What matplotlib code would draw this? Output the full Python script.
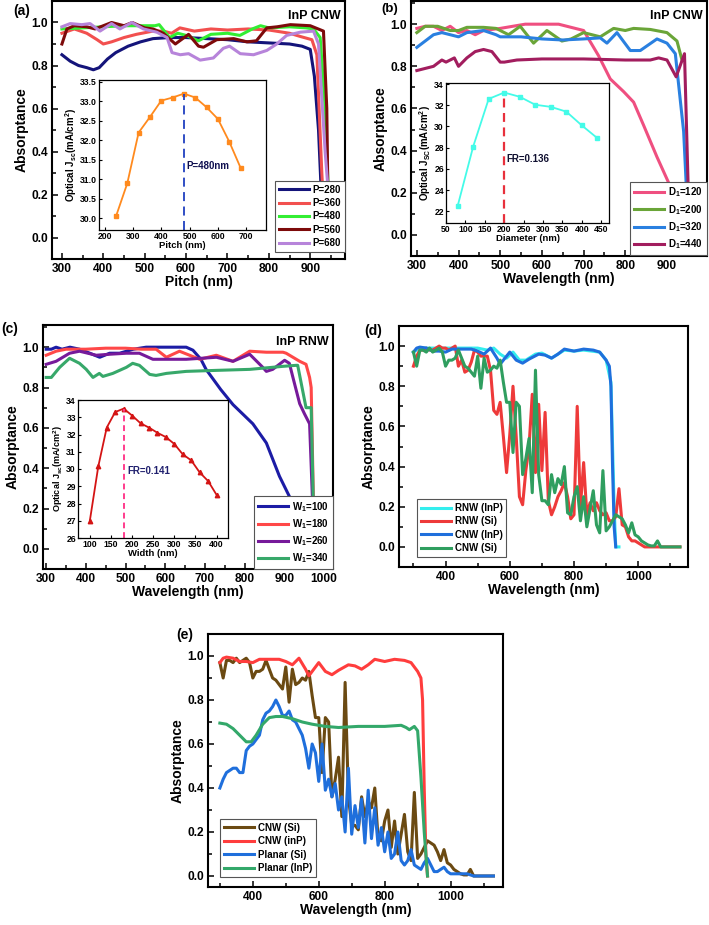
import numpy as np
import matplotlib
matplotlib.use('Agg')
import matplotlib.pyplot as plt
from matplotlib.ticker import MultipleLocator, FormatStrFormatter

# fonts: bold arial-like everywhere, mathtext bold too
FAMILY = ['Liberation Sans', 'DejaVu Sans']
plt.rcParams['font.family'] = FAMILY
plt.rcParams['font.weight'] = 'bold'
plt.rcParams['axes.labelweight'] = 'bold'
plt.rcParams['mathtext.fontset'] = 'custom'
plt.rcParams['mathtext.rm'] = 'Liberation Sans:bold'
plt.rcParams['mathtext.it'] = 'Liberation Sans:bold'
plt.rcParams['mathtext.bf'] = 'Liberation Sans:bold'
plt.rcParams['mathtext.default'] = 'bf'

# ---------------- (a) InP CNW, pitch sweep ----------------
wl_p280 = [300, 320, 340, 360, 376, 390, 410, 430, 460, 490, 520, 560, 600, 650, 700, 750, 800, 850, 880, 900, 910, 920, 928, 936]
ab_p280 = [0.85, 0.82, 0.80, 0.79, 0.78, 0.79, 0.83, 0.86, 0.89, 0.91, 0.925, 0.93, 0.93, 0.925, 0.92, 0.91, 0.905, 0.90, 0.89, 0.875, 0.75, 0.50, 0.15, 0.0]
wl_p360 = [300, 330, 360, 385, 400, 420, 450, 480, 520, 545, 565, 585, 620, 660, 700, 750, 800, 850, 876, 904, 916, 928, 936]
ab_p360 = [0.95, 0.97, 0.95, 0.92, 0.90, 0.91, 0.93, 0.945, 0.96, 0.96, 0.95, 0.975, 0.96, 0.97, 0.965, 0.97, 0.965, 0.95, 0.935, 0.92, 0.85, 0.30, 0.0]
wl_p480 = [300, 350, 400, 450, 500, 525, 535, 560, 580, 600, 630, 660, 700, 730, 760, 780, 800, 850, 890, 908, 924, 936, 944, 948]
ab_p480 = [0.97, 0.975, 0.98, 0.985, 0.985, 0.985, 0.99, 0.93, 0.95, 0.94, 0.915, 0.945, 0.95, 0.94, 0.97, 0.985, 0.975, 0.98, 0.975, 0.97, 0.93, 0.60, 0.20, 0.0]
wl_p560 = [300, 312, 330, 360, 380, 420, 450, 470, 500, 520, 545, 574, 606, 630, 642, 674, 715, 747, 770, 795, 820, 852, 900, 932, 940, 944]
ab_p560 = [0.90, 0.97, 0.985, 0.98, 0.97, 1.00, 0.985, 1.0, 0.975, 0.97, 0.95, 0.90, 0.945, 0.89, 0.885, 0.92, 0.925, 0.91, 0.915, 0.975, 0.98, 0.99, 0.985, 0.96, 0.60, 0.0]
wl_p680 = [300, 320, 348, 368, 392, 420, 440, 469, 497, 529, 554, 566, 586, 606, 634, 666, 690, 705, 731, 763, 795, 819, 843, 876, 908, 920, 936, 952, 964]
ab_p680 = [0.98, 0.995, 0.99, 0.995, 0.96, 0.995, 0.97, 1.0, 0.97, 0.955, 0.93, 0.86, 0.85, 0.855, 0.825, 0.835, 0.88, 0.89, 0.855, 0.85, 0.87, 0.90, 0.94, 0.955, 0.96, 0.90, 0.40, 0.0, 0.0]

pitch = [240, 280, 320, 360, 400, 440, 480, 520, 560, 600, 640, 680]
jsc_pitch = [30.05, 30.9, 32.2, 32.6, 33.02, 33.1, 33.2, 33.1, 32.85, 32.55, 31.97, 31.3]

# ---------------- (b) InP CNW, diameter sweep ----------------
wl_d120 = [300, 320, 340, 360, 380, 400, 420, 440, 460, 480, 500, 530, 560, 600, 640, 660, 700, 736, 764, 796, 820, 844, 876, 908, 932, 948, 954]
ab_d120 = [0.98, 0.99, 0.99, 0.97, 0.99, 0.96, 0.97, 0.95, 0.97, 0.975, 0.98, 0.99, 1.0, 1.0, 1.0, 0.99, 0.97, 0.85, 0.74, 0.68, 0.63, 0.52, 0.37, 0.23, 0.135, 0.04, 0.0]
wl_d200 = [300, 320, 350, 380, 400, 420, 460, 490, 520, 548, 580, 612, 648, 670, 700, 740, 772, 800, 820, 860, 900, 924, 936]
ab_d200 = [0.96, 0.99, 0.99, 0.97, 0.97, 0.985, 0.985, 0.98, 0.95, 0.99, 0.91, 0.97, 0.92, 0.93, 0.96, 0.94, 0.98, 0.97, 0.98, 0.975, 0.96, 0.92, 0.83]
wl_d320 = [300, 320, 340, 360, 380, 400, 420, 460, 490, 500, 550, 600, 650, 700, 740, 756, 780, 812, 836, 876, 900, 920, 940, 952]
ab_d320 = [0.89, 0.92, 0.95, 0.96, 0.95, 0.94, 0.96, 0.97, 0.95, 0.94, 0.94, 0.93, 0.925, 0.93, 0.935, 0.91, 0.96, 0.875, 0.875, 0.93, 0.91, 0.86, 0.49, 0.0]
wl_d440 = [300, 320, 340, 360, 370, 390, 400, 420, 440, 460, 480, 500, 510, 540, 600, 700, 800, 860, 880, 900, 922, 942, 954]
ab_d440 = [0.78, 0.79, 0.80, 0.83, 0.82, 0.84, 0.80, 0.84, 0.87, 0.88, 0.87, 0.82, 0.82, 0.83, 0.835, 0.835, 0.83, 0.83, 0.84, 0.83, 0.75, 0.86, 0.0]

diameter = [80, 120, 160, 200, 240, 280, 320, 360, 400, 440]
jsc_diam = [22.5, 28.1, 32.6, 33.2, 32.8, 32.05, 31.85, 31.4, 30.1, 28.9]

# ---------------- (c) InP RNW, width sweep ----------------
wl_w100 = [300, 313, 325, 340, 360, 384, 410, 435, 460, 485, 520, 552, 600, 653, 670, 690, 703, 740, 771, 800, 821, 855, 888, 913, 939, 964, 976]
ab_w100 = [0.99, 0.99, 1.0, 0.99, 1.0, 0.99, 0.97, 0.95, 0.97, 0.97, 0.99, 1.0, 1.0, 1.0, 0.985, 0.94, 0.89, 0.79, 0.715, 0.66, 0.62, 0.525, 0.36, 0.26, 0.18, 0.06, 0.0]
wl_w180 = [300, 325, 350, 400, 450, 500, 540, 577, 603, 636, 687, 729, 771, 813, 855, 897, 905, 939, 955, 964, 968, 976]
ab_w180 = [0.96, 0.98, 0.99, 0.99, 0.995, 0.995, 0.99, 0.99, 0.95, 0.98, 0.94, 0.96, 0.93, 0.98, 0.975, 0.975, 0.97, 0.93, 0.915, 0.85, 0.80, 0.0]
wl_w260 = [300, 325, 359, 384, 426, 460, 502, 535, 569, 653, 729, 771, 813, 846, 855, 871, 901, 913, 922, 939, 951, 964, 976]
ab_w260 = [0.915, 0.93, 0.97, 0.98, 0.96, 0.965, 0.97, 0.97, 0.94, 0.94, 0.95, 0.93, 0.965, 0.90, 0.88, 0.89, 0.935, 0.92, 0.85, 0.72, 0.67, 0.62, 0.0]
wl_w340 = [300, 313, 334, 359, 384, 401, 418, 434, 443, 468, 502, 518, 535, 561, 577, 603, 653, 729, 813, 897, 930, 934, 955, 968, 976, 989]
ab_w340 = [0.85, 0.85, 0.90, 0.945, 0.92, 0.89, 0.85, 0.87, 0.855, 0.87, 0.90, 0.92, 0.91, 0.865, 0.86, 0.87, 0.88, 0.885, 0.89, 0.905, 0.91, 0.91, 0.70, 0.70, 0.0, 0.0]

width = [100, 120, 140, 160, 180, 200, 220, 240, 260, 280, 300, 320, 340, 360, 380, 400]
jsc_width = [27.0, 30.15, 32.4, 33.3, 33.5, 33.1, 32.65, 32.4, 32.1, 31.85, 31.45, 30.85, 30.5, 29.8, 29.3, 28.5]

# ---------------- (d)/(e) InP vs Si ----------------
wl_rnw_inp = [300, 320, 350, 400, 450, 500, 530, 550, 570, 590, 610, 630, 650, 680, 700, 730, 770, 800, 830, 880, 900, 915, 925, 930, 940]
ab_rnw_inp = [0.97, 0.99, 0.99, 0.99, 0.99, 0.99, 0.98, 0.99, 0.96, 0.94, 0.97, 0.93, 0.93, 0.96, 0.965, 0.94, 0.98, 0.975, 0.98, 0.97, 0.93, 0.82, 0.20, 0.0, 0.0]
wl_cnw_inp = [300, 310, 320, 340, 360, 380, 400, 420, 440, 460, 480, 500, 520, 540, 560, 570, 585, 600, 620, 640, 660, 690, 710, 730, 750, 770, 800, 830, 860, 880, 900, 910, 915, 920, 925, 930]
ab_cnw_inp = [0.97, 0.99, 0.995, 0.99, 0.975, 0.975, 0.97, 0.985, 0.985, 0.985, 0.985, 0.975, 0.96, 0.99, 0.94, 0.91, 0.94, 0.97, 0.93, 0.915, 0.935, 0.96, 0.955, 0.94, 0.96, 0.985, 0.975, 0.985, 0.98, 0.97, 0.93, 0.90, 0.80, 0.40, 0.10, 0.0]

wl_si = list(range(300, 1131, 10))
ab_rnw_si = [0.90, 0.95, 0.98, 0.98, 0.99, 0.98, 0.98, 0.99, 1.00, 0.99,
             0.99, 0.98, 0.99, 1.00, 0.90, 0.93, 0.87, 0.88, 0.92, 0.98,
             0.97, 0.95, 0.95, 0.95, 0.88, 0.68, 0.66, 0.72, 0.55, 0.37,
             0.56, 0.80, 0.55, 0.25, 0.21, 0.38, 0.50, 0.76, 0.37, 0.71,
             0.38, 0.67, 0.23, 0.16, 0.20, 0.25, 0.28, 0.32, 0.25, 0.14,
             0.16, 0.70, 0.20, 0.42, 0.16, 0.22, 0.18, 0.22, 0.18, 0.16,
             0.17, 0.13, 0.13, 0.15, 0.29, 0.11, 0.10, 0.05, 0.03, 0.03,
             0.02, 0.01, 0.0, 0.0, 0.0, 0.0, 0.0, 0.0, 0.0, 0.0,
             0.0, 0.0, 0.0, 0.0]
ab_cnw_si = [0.97, 0.90, 0.98, 0.98, 0.97, 0.99, 0.97, 0.98, 0.99, 0.97,
             0.90, 0.93, 0.93, 0.94, 0.98, 0.94, 0.90, 0.89, 0.87, 0.85,
             0.95, 0.79, 0.94, 0.87, 0.88, 0.90, 0.89, 0.93, 0.82, 0.72,
             0.72, 0.47, 0.72, 0.70, 0.36, 0.44, 0.54, 0.27, 0.88, 0.36,
             0.23, 0.23, 0.21, 0.36, 0.27, 0.34, 0.31, 0.40, 0.17, 0.16,
             0.25, 0.30, 0.13, 0.25, 0.10, 0.19, 0.28, 0.11, 0.07, 0.38,
             0.08, 0.10, 0.13, 0.16, 0.15, 0.14, 0.11, 0.07, 0.12, 0.06,
             0.05, 0.03, 0.02, 0.01, 0.005, 0.005, 0.03, 0.0, 0.0, 0.0,
             0.0, 0.0, 0.0, 0.0]
ab_planar_si = [0.40, 0.44, 0.47, 0.48, 0.49, 0.49, 0.47, 0.47, 0.57, 0.59,
                0.60, 0.62, 0.64, 0.71, 0.74, 0.75, 0.77, 0.80, 0.77, 0.73,
                0.73, 0.75, 0.71, 0.70, 0.67, 0.64, 0.58, 0.49, 0.60, 0.56,
                0.43, 0.60, 0.39, 0.44, 0.36, 0.42, 0.30, 0.36, 0.20, 0.49,
                0.19, 0.32, 0.22, 0.35, 0.15, 0.39, 0.17, 0.31, 0.14, 0.22,
                0.11, 0.20, 0.08, 0.10, 0.20, 0.07, 0.05, 0.07, 0.12, 0.05,
                0.04, 0.03, 0.06, 0.08, 0.05, 0.02, 0.02, 0.03, 0.04, 0.02,
                0.01, 0.01, 0.01, 0.01, 0.01, 0.01, 0.005, 0.0, 0.0, 0.0,
                0.0, 0.0, 0.0, 0.0]
wl_planar_inp = [300, 320, 340, 360, 380, 395, 410, 430, 450, 470, 490, 520, 550, 580, 620, 660, 720, 800, 850, 865, 875, 890, 900, 910, 920, 930]
ab_planar_inp = [0.695, 0.69, 0.67, 0.64, 0.61, 0.61, 0.64, 0.69, 0.72, 0.725, 0.725, 0.715, 0.70, 0.69, 0.68, 0.675, 0.68, 0.68, 0.685, 0.675, 0.665, 0.68, 0.66, 0.45, 0.20, 0.0]

FS_TICK = 8.6
FS_LABEL = 10
FS_LEG = 7
FS_IN = 6.2

fig = plt.figure(figsize=(7.09, 9.25), dpi=100, facecolor='white')


def px_rect(x0, y0, x1, y1):
    # pixel box (top-left origin) -> figure fraction
    W, H = 709.0, 925.0
    return [x0 / W, 1 - y1 / H, (x1 - x0) / W, (y1 - y0) / H]


def bold_ticks(ax):
    for lab in ax.get_xticklabels() + ax.get_yticklabels():
        lab.set_fontweight('bold')


def main_axes(box, xlim, ylim, xlabel, xmaj, xmin):
    ax = fig.add_axes(px_rect(*box))
    ax.set_xlim(xlim)
    ax.set_ylim(ylim)
    ax.xaxis.set_major_locator(MultipleLocator(xmaj))
    ax.xaxis.set_minor_locator(MultipleLocator(xmin))
    ax.yaxis.set_major_locator(MultipleLocator(0.2))
    ax.yaxis.set_minor_locator(MultipleLocator(0.1))
    ax.yaxis.set_major_formatter(FormatStrFormatter('%.1f'))
    ax.tick_params(which='both', direction='in', width=1.1, labelsize=FS_TICK, pad=3)
    ax.tick_params(which='major', length=4)
    ax.tick_params(which='minor', length=3)
    for s in ax.spines.values():
        s.set_linewidth(1.5)
    ax.set_xlabel(xlabel, fontsize=FS_LABEL, labelpad=0, fontweight='bold')
    ax.set_ylabel('Absorptance', fontsize=FS_LABEL, labelpad=2, fontweight='bold')
    bold_ticks(ax)
    return ax


def inset_axes(box, xlim, ylim, xlabel, xmaj, ymaj, yfmt):
    ax = fig.add_axes(px_rect(*box))
    ax.set_xlim(xlim)
    ax.set_ylim(ylim)
    ax.xaxis.set_major_locator(MultipleLocator(xmaj))
    ax.yaxis.set_major_locator(MultipleLocator(ymaj))
    ax.yaxis.set_major_formatter(FormatStrFormatter(yfmt))
    ax.tick_params(direction='in', length=2.5, width=0.8, labelsize=FS_IN, pad=1.5)
    for s in ax.spines.values():
        s.set_linewidth(0.9)
    ax.set_xlabel(xlabel, fontsize=FS_IN + 0.6, labelpad=0, fontweight='bold')
    bold_ticks(ax)
    return ax


def add_legend(ax, loc, anchor):
    leg = ax.legend(loc=loc, bbox_to_anchor=anchor, handlelength=3.1,
                    prop={'family': FAMILY, 'weight': 'bold', 'size': FS_LEG},
                    handletextpad=0.4, labelspacing=0.35, borderpad=0.4, borderaxespad=0,
                    frameon=True, fancybox=False, framealpha=1, edgecolor='#555555')
    leg.get_frame().set_linewidth(0.8)
    return leg


LW = 2.2

# ---- (a)
ax = main_axes((52, 1, 345, 259), (276, 984), (-0.1, 1.1), 'Pitch (nm)', 100, 50)
ax.plot(wl_p280, ab_p280, color='#14147a', lw=LW, label='P=280')
ax.plot(wl_p360, ab_p360, color='#f2504f', lw=LW, label='P=360')
ax.plot(wl_p480, ab_p480, color='#33ee33', lw=LW, label='P=480')
ax.plot(wl_p560, ab_p560, color='#7d0a0a', lw=LW, label='P=560')
ax.plot(wl_p680, ab_p680, color='#b784da', lw=LW, label='P=680')
ax.text(0.985, 0.965, 'InP CNW', transform=ax.transAxes, ha='right', va='top', fontsize=9, fontweight='bold')
add_legend(ax, 'lower right', (1.0, 0.027))
fig.text(13 / 709, 1 - 4 / 925, '(a)', fontsize=10, va='top', fontweight='bold')

ins = inset_axes((99, 80, 266, 230), (180, 770), (29.7, 33.55), 'Pitch (nm)', 100, 0.5, '%.1f')
ins.set_ylabel('Optical J$_{sc}$(mA/cm$^{2}$)', fontsize=7, labelpad=1, fontweight='bold')
ins.plot(pitch, jsc_pitch, color='#ff8a1e', lw=1.3, marker='s', ms=3)
best = int(np.argmax(jsc_pitch))
ins.vlines(pitch[best], 29.7, jsc_pitch[best], colors='#2040c0', linestyles=(0, (5, 3)), lw=1.3)
ins.text(pitch[best] + 8, 31.35, 'P=%dnm' % pitch[best], fontsize=7, color='#101050', va='center', fontweight='bold')

# ---- (b)
ax = main_axes((411, 1, 707, 256), (286, 996), (-0.1, 1.11), 'Wavelength (nm)', 100, 50)
ax.plot(wl_d120, ab_d120, color='#ef4f80', lw=LW, label='D$_1$=120')
ax.plot(wl_d200, ab_d200, color='#6aa538', lw=LW, label='D$_1$=200')
ax.plot(wl_d320, ab_d320, color='#2a80e0', lw=LW, label='D$_1$=320')
ax.plot(wl_d440, ab_d440, color='#a21d5e', lw=LW, label='D$_1$=440')
ax.text(0.985, 0.965, 'InP CNW', transform=ax.transAxes, ha='right', va='top', fontsize=9, fontweight='bold')
add_legend(ax, 'lower right', (1.0, 0.004))
fig.text(381 / 709, 1 - 3 / 925, '(b)', fontsize=9.5, va='top', fontweight='bold')

ins = inset_axes((446, 83, 609, 223), (50, 470), (20.9, 34.1), 'Diameter (nm)', 50, 2, '%d')
ins.set_ylabel('Optical J$_{SC}$(mA/cm$^{2}$)', fontsize=7, labelpad=1, fontweight='bold')
ins.plot(diameter, jsc_diam, color='#44fbe8', lw=1.3, marker='s', ms=2.8)
best = int(np.argmax(jsc_diam))
ins.vlines(diameter[best], 20.9, jsc_diam[best], colors='#e8303c', linestyles=(0, (4, 2.5)), lw=1.6)
ins.text(diameter[best] + 5, 26.9, 'FR=0.136', fontsize=7, color='#101030', va='center', fontweight='bold')

# ---- (c)
ax = main_axes((43, 325, 333, 569), (292, 1023), (-0.1, 1.11), 'Wavelength (nm)', 100, 50)
ax.plot(wl_w100, ab_w100, color='#1c1ca5', lw=LW, label='W$_1$=100')
ax.plot(wl_w180, ab_w180, color='#ff4848', lw=LW, label='W$_1$=180')
ax.plot(wl_w260, ab_w260, color='#761a9a', lw=LW, label='W$_1$=260')
ax.plot(wl_w340, ab_w340, color='#37a86a', lw=LW, label='W$_1$=340')
ax.text(0.985, 0.955, 'InP RNW', transform=ax.transAxes, ha='right', va='top', fontsize=9, fontweight='bold')
add_legend(ax, 'lower right', (1.0, 0.0))
fig.text(1 / 709, 1 - 322 / 925, '(c)', fontsize=10, va='top', fontweight='bold')

ins = inset_axes((78, 400, 228, 538), (72, 427), (26, 34), 'Width (nm)', 50, 1, '%d')
ins.set_ylabel('Optical J$_{sc}$(mA/cm$^{2}$)', fontsize=6.5, labelpad=1, fontweight='bold')
ins.plot(width, jsc_width, color='#d41414', lw=1.3, marker='^', ms=3.2)
best = int(np.argmax(jsc_width))
ins.vlines(width[best], 26, jsc_width[best], colors='#ff3c8c', linestyles=(0, (3, 2)), lw=1.4)
ins.text(width[best] + 10, 29.9, 'FR=0.141', fontsize=7, color='#20206e', va='center', fontweight='bold')

# ---- (d)
ax = main_axes((399, 326, 688, 567), (255, 1155), (-0.1, 1.1), 'Wavelength (nm)', 200, 100)
ax.plot(wl_rnw_inp, ab_rnw_inp, color='#33eeee', lw=LW, label='RNW (InP)')
ax.plot(wl_si, ab_rnw_si, color='#ee3a3a', lw=LW, label='RNW (Si)')
ax.plot(wl_cnw_inp, ab_cnw_inp, color='#1f6fdc', lw=LW, label='CNW (InP)')
ax.plot(wl_si, ab_cnw_si, color='#2f9e5f', lw=LW, label='CNW (Si)')
add_legend(ax, 'lower left', (0.061, 0.041))
fig.text(364 / 709, 1 - 324 / 925, '(d)', fontsize=10, va='top', fontweight='bold')

# ---- (e)
ax = main_axes((208, 634, 503, 887), (264, 1159), (-0.05, 1.1), 'Wavelength (nm)', 200, 100)
ax.plot(wl_si, ab_cnw_si, color='#6b4a12', lw=LW, label='CNW (Si)')
ax.plot(wl_cnw_inp, ab_cnw_inp, color='#ff3d3d', lw=LW, label='CNW (inP)')
ax.plot(wl_si, ab_planar_si, color='#1f6fdc', lw=LW, label='Planar (Si)')
ax.plot(wl_planar_inp, ab_planar_inp, color='#33a86a', lw=LW, label='Planar (InP)')
add_legend(ax, 'lower left', (0.041, 0.04))
fig.text(176 / 709, 1 - 628 / 925, '(e)', fontsize=10, va='top', fontweight='bold')

fig.savefig('out.png', dpi=100, facecolor='white')
